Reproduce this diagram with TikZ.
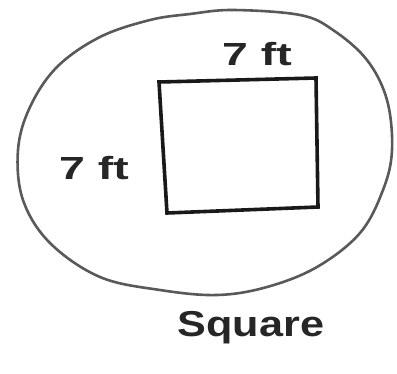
\documentclass[tikz,border=0pt]{standalone}
\usepackage{fontspec}
\setmainfont{Liberation Sans}
\usepackage{graphicx}
\begin{document}
\begin{tikzpicture}[x=1pt,y=-1pt,
  outline/.style={draw=black!65, line width=2.6pt, line join=round},
  box/.style={draw=black!90, line width=3.6pt, line join=miter},
  lab/.style={inner sep=0pt, font=\fontsize{32}{34}\selectfont\bfseries, text=black!85}]
\useasboundingbox (0,0) rectangle (397,373);
\draw[outline] plot[smooth cycle, tension=0.6] coordinates {
 (233,10) (300,15) (333,30) (367,60) (387,100) (392,150) (383,190)
 (360,233) (317,267) (267,287) (217,295) (160,290) (100,277) (50,243)
 (23,200) (18,150) (30,107) (57,67) (100,37) (150,20) (190,14)};
\coordinate (tl) at (159,82);
\coordinate (tr) at (316,78);
\coordinate (br) at (318,207);
\coordinate (bl) at (167,213);
\draw[box] (tl) -- (tr) -- (br) -- (bl) -- cycle;
\node[lab] (top) at (257,54) {\scalebox{1.45}[1]{7 ft}};
\node[lab] (left) at (94,168) {\scalebox{1.45}[1]{7 ft}};
\node[lab, font=\fontsize{36}{38}\selectfont\bfseries] (sq) at (251,328) {\scalebox{1.2}[1]{Square}};
\end{tikzpicture}
\end{document}
